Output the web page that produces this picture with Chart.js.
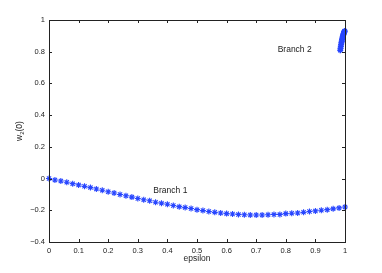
<!DOCTYPE html>
<html><head><meta charset="utf-8">
<script src="https://cdn.jsdelivr.net/npm/chart.js@4.4.1/dist/chart.umd.min.js"></script>
<style>html,body{margin:0;padding:0;background:#fff}#wrap{width:382px;height:273px;position:relative}</style>
</head><body><div id="wrap"><canvas id="c" width="382" height="273"></canvas></div>
<script>
const xTicks = [0, 0.1, 0.2, 0.3, 0.4, 0.5, 0.6, 0.7, 0.8, 0.9, 1];
const yTicks = [-0.4, -0.2, 0, 0.2, 0.4, 0.6, 0.8, 1];
const branch1Eps = [0,0.02,0.04,0.06,0.08,0.1,0.12,0.14,0.16,0.18,0.2,0.22,0.24,0.26,0.28,0.3,0.32,0.34,0.36,0.38,0.4,0.42,0.44,0.46,0.48,0.5,0.52,0.54,0.56,0.58,0.6,0.62,0.64,0.66,0.68,0.7,0.72,0.74,0.76,0.78,0.8,0.82,0.84,0.86,0.88,0.9,0.92,0.94,0.96,0.98,1.0];
const branch1W = [0,-0.009,-0.015,-0.023,-0.032,-0.040,-0.049,-0.057,-0.066,-0.074,-0.083,-0.091,-0.100,-0.108,-0.117,-0.126,-0.134,-0.140,-0.149,-0.155,-0.162,-0.170,-0.177,-0.183,-0.189,-0.196,-0.202,-0.208,-0.213,-0.217,-0.221,-0.223,-0.226,-0.228,-0.230,-0.230,-0.230,-0.228,-0.226,-0.226,-0.221,-0.219,-0.217,-0.213,-0.208,-0.204,-0.200,-0.196,-0.191,-0.185,-0.179];
const branch2Eps = [0.984,0.985,0.986,0.987,0.988,0.989,0.990,0.991,0.992,0.993,0.994,0.995,0.996,0.997,0.998,0.999];
const branch2W = [0.810,0.822,0.834,0.845,0.856,0.866,0.875,0.884,0.892,0.899,0.906,0.912,0.917,0.922,0.926,0.930];
const labels = [{text:'Branch 1', x:0.41, y:-0.078}, {text:'Branch 2', x:0.83, y:0.815}];
const xTitle = 'epsilon';

const BLUE = 'rgb(40,70,255)';
const fmt = v => { const s = String(Math.round(v*10)/10); return s.replace('-', '\u2212'); };
const toPts = (xs, ys) => xs.map((x,i)=>({x, y: ys[i]}));

const framePlugin = {
  id: 'frame',
  afterDraw(chart) {
    const {ctx, chartArea: a, scales: {x, y}} = chart;
    ctx.save();
    ctx.strokeStyle = '#222';
    ctx.lineWidth = 1;
    ctx.strokeRect(Math.round(a.left)+0.5, Math.round(a.top)+0.5, Math.round(a.right-a.left), Math.round(a.bottom-a.top));
    const L = 3;
    ctx.beginPath();
    xTicks.forEach(v => { const p = Math.round(x.getPixelForValue(v))+0.5;
      ctx.moveTo(p, a.bottom); ctx.lineTo(p, a.bottom-L);
      ctx.moveTo(p, a.top); ctx.lineTo(p, a.top+L); });
    yTicks.forEach(v => { const p = Math.round(y.getPixelForValue(v))+0.5;
      ctx.moveTo(a.left, p); ctx.lineTo(a.left+L, p);
      ctx.moveTo(a.right, p); ctx.lineTo(a.right-L, p); });
    ctx.stroke();
    ctx.fillStyle = '#222';
    ctx.font = '8.5px "Liberation Sans", Arial, sans-serif';
    ctx.textAlign = 'center'; ctx.textBaseline = 'middle';
    labels.forEach(l => ctx.fillText(l.text, x.getPixelForValue(l.x), y.getPixelForValue(l.y)));
    ctx.fillText(xTitle, (a.left+a.right)/2, 259);
    // y title with subscript
    ctx.translate(20, 131);
    ctx.rotate(-Math.PI/2);
    ctx.textAlign = 'left';
    const f1 = '8.5px "Liberation Sans", Arial, sans-serif', f2 = '6px "Liberation Sans", Arial, sans-serif';
    ctx.font = f1; const w1 = ctx.measureText('w').width, w3 = ctx.measureText('(0)').width;
    ctx.font = f2; const w2 = ctx.measureText('2').width;
    let sx = -(w1+w2+w3)/2;
    ctx.font = f1; ctx.fillText('w', sx, 0); sx += w1;
    ctx.font = f2; ctx.fillText('2', sx, 2.5); sx += w2;
    ctx.font = f1; ctx.fillText('(0)', sx, 0);
    ctx.restore();
  }
};

new Chart(document.getElementById('c'), {
  type: 'scatter',
  data: { datasets: [
    { data: toPts(branch1Eps, branch1W), pointStyle: 'star', radius: 3, borderColor: BLUE, backgroundColor: BLUE, borderWidth: 1.1, showLine: false, clip: false },
    { data: toPts(branch2Eps, branch2W), pointStyle: 'star', radius: 3, borderColor: BLUE, backgroundColor: BLUE, borderWidth: 1.5, showLine: false, clip: false }
  ]},
  options: {
    responsive: false, animation: false, events: [],
    layout: { padding: { left: 0, top: 20, right: 37, bottom: 0 } },
    plugins: { legend: { display: false }, tooltip: { enabled: false } },
    scales: {
      x: { type: 'linear', min: 0, max: 1,
        afterBuildTicks: s => { s.ticks = xTicks.map(v => ({value: v})); },
        afterFit: s => { s.height = 31; },
        grid: { display: false, drawTicks: false }, border: { display: false },
        ticks: { padding: 4, color: '#222', font: { family: '"Liberation Sans", Arial, sans-serif', size: 7.5 }, callback: v => fmt(v), maxRotation: 0, autoSkip: false } },
      y: { type: 'linear', min: -0.4, max: 1,
        afterBuildTicks: s => { s.ticks = yTicks.map(v => ({value: v})); },
        afterFit: s => { s.width = 49; },
        grid: { display: false, drawTicks: false }, border: { display: false },
        ticks: { padding: 4, color: '#222', font: { family: '"Liberation Sans", Arial, sans-serif', size: 7.5 }, callback: v => fmt(v), autoSkip: false } }
    }
  },
  plugins: [framePlugin]
});
</script></body></html>
